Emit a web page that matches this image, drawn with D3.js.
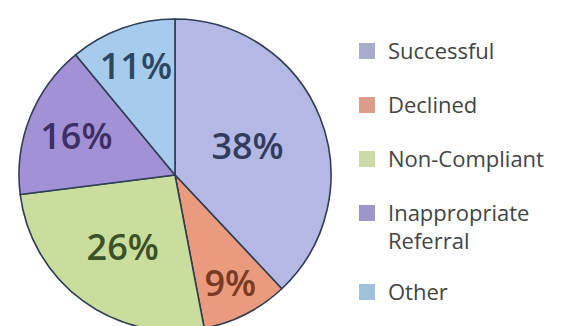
<!DOCTYPE html>
<html>
<head>
<meta charset="utf-8">
<script src="https://cdn.jsdelivr.net/npm/d3@7"></script>
<style>
  html, body { margin: 0; padding: 0; background: #ffffff; }
  svg { display: block; }
</style>
</head>
<body>
<svg id="chart" width="564" height="326"></svg>
<script>
// Referral outcomes, percent of all referrals
const categories = ["Successful", "Declined", "Non-Compliant", "Inappropriate Referral", "Other"];
const values = [38, 9, 26, 16, 11];
const legendLines = [["Successful"], ["Declined"], ["Non-Compliant"], ["Inappropriate", "Referral"], ["Other"]];

const sliceFill = ["#b3b9e4", "#eb9b7d", "#c9de9d", "#a391d6", "#a7cbec"];
const labelFill = ["#333c5f", "#7a3b22", "#3b5229", "#3c2f67", "#2b4763"];
const swatchFill = ["#aaaccc", "#dc9c8c", "#cbdaa7", "#9c96ca", "#a0c2da"];
// how far out each percentage sits, as a share of the radius
const labelReach = [0.5, 0.78, 0.57, 0.68, 0.74];

const svg = d3.select("#chart");
const cx = 175, cy = 175, radius = 156;

const pie = d3.pie().sort(null).value(d => d)(values);
const arc = d3.arc().innerRadius(0).outerRadius(radius);

const g = svg.append("g").attr("transform", `translate(${cx},${cy})`);

g.selectAll("path.slice")
  .data(pie)
  .join("path")
  .attr("class", "slice")
  .attr("d", arc)
  .attr("fill", (d, i) => sliceFill[i])
  .attr("stroke", "#2f3d55")
  .attr("stroke-width", 1.6)
  .attr("stroke-linejoin", "round");

g.selectAll("text.pct")
  .data(pie)
  .join("text")
  .attr("class", "pct")
  .attr("transform", (d, i) => {
    const r = radius * labelReach[i];
    const c = d3.arc().innerRadius(r).outerRadius(r).centroid(d);
    return `translate(${c[0]},${c[1]})`;
  })
  .attr("text-anchor", "middle")
  .attr("dy", "0.36em")
  .attr("font-family", "'Open Sans', sans-serif")
  .attr("font-weight", 600)
  .attr("font-size", 36)
  .attr("fill", (d, i) => labelFill[i])
  .text(d => d.data + "%");

// legend: one row per category, two-line entries push the rows below them down
const rowStep = 54, lineStep = 28, wrapExtra = 25;
const rowY = [];
legendLines.reduce((y, lines) => { rowY.push(y); return y + rowStep + (lines.length - 1) * wrapExtra; }, 51);

const rows = svg.append("g").selectAll("g.row")
  .data(categories)
  .join("g")
  .attr("class", "row")
  .attr("transform", (d, i) => `translate(359,${rowY[i]})`);

rows.append("rect")
  .attr("x", 0)
  .attr("y", -8)
  .attr("width", 16)
  .attr("height", 16)
  .attr("fill", (d, i) => swatchFill[i]);

rows.each(function(d, i) {
  const t = d3.select(this).append("text")
    .attr("font-family", "'Open Sans', sans-serif")
    .attr("font-size", 22)
    .attr("font-weight", 500)
    .attr("fill", "#444444");
  legendLines[i].forEach((line, k) => {
    t.append("tspan")
      .attr("x", 29)
      .attr("y", k * lineStep)
      .attr("dy", "0.35em")
      .text(line);
  });
});
</script>
</body>
</html>
